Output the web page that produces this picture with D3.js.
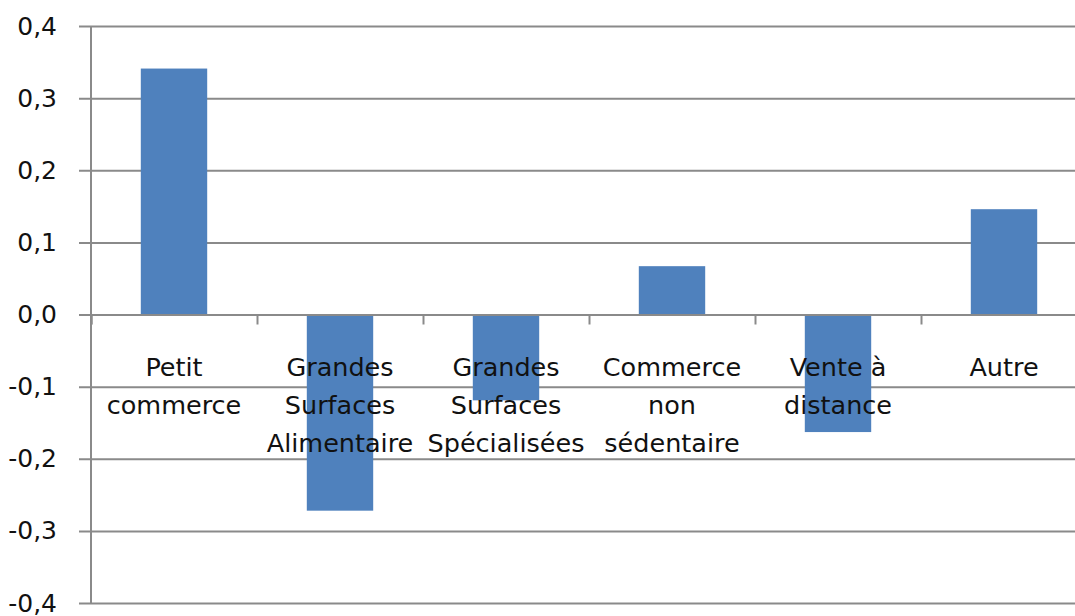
<!DOCTYPE html>
<html>
<head>
<meta charset="utf-8">
<script src="https://cdn.jsdelivr.net/npm/d3@7"></script>
<style>
  body { margin: 0; background: #fff; }
  svg { display: block; }
  text { font-family: 'DejaVu Sans', sans-serif; fill: #111; }
</style>
</head>
<body>
<div id="chart"></div>
<script>
// data
let categories = [
  ['Petit', 'commerce'],
  ['Grandes', 'Surfaces', 'Alimentaire'],
  ['Grandes', 'Surfaces', 'Spécialisées'],
  ['Commerce', 'non', 'sédentaire'],
  ['Vente à', 'distance'],
  ['Autre']
]
let values = [0.341, -0.272, -0.119, 0.067, -0.163, 0.146]
let yTicks = [-0.4, -0.3, -0.2, -0.1, 0, 0.1, 0.2, 0.3, 0.4]

let margin = { top: 26, left: 91, right: 0, bottom: 13 }
let width = 996
let height = 616 - margin.top - margin.bottom

let svg = d3
  .select('#chart')
  .append('svg')
  .attr('width', 1075)
  .attr('height', 616)
  .append('g')
  .attr('transform', 'translate(' + margin.left + ',' + margin.top + ')')

let keys = categories.map((d, i) => i)

let xPositionScale = d3
  .scaleBand()
  .domain(keys)
  .range([0, width])
  .paddingInner(0.6)
  .paddingOuter(0.3)

let yPositionScale = d3.scaleLinear().domain([-0.4, 0.4]).range([height, 0])

let fmt = d => d3.format('.1f')(d).replace('.', ',').replace('−', '-')

// gridlines + y ticks
let yAxis = d3
  .axisLeft(yPositionScale)
  .tickValues(yTicks)
  .tickSize(-width - 12)
  .tickFormat(fmt)
  .tickPadding(22)
svg
  .append('g')
  .attr('class', 'axis y-axis')
  .attr('transform', 'translate(-12,0)')
  .call(yAxis)
  .call(g => g.select('.domain').remove())
  .call(g => g.selectAll('line').attr('stroke', '#8a8a8a').attr('stroke-width', 2))
  .call(g => g.selectAll('text').attr('font-size', 25).attr('fill', '#111'))

// bars
svg
  .selectAll('.bar')
  .data(values)
  .enter()
  .append('rect')
  .attr('class', 'bar')
  .attr('x', (d, i) => xPositionScale(i))
  .attr('width', xPositionScale.bandwidth())
  .attr('y', d => yPositionScale(Math.max(0, d)))
  .attr('height', d => Math.abs(yPositionScale(d) - yPositionScale(0)))
  .attr('fill', '#4f81bd')

// vertical axis line
svg
  .append('line')
  .attr('x1', 0)
  .attr('x2', 0)
  .attr('y1', 0)
  .attr('y2', height)
  .attr('stroke', '#8a8a8a')
  .attr('stroke-width', 2)

// category axis at zero
let step = width / categories.length
let xAxis = d3
  .axisBottom(d3.scaleLinear().domain([0, categories.length]).range([0, width]))
  .tickValues(d3.range(categories.length + 1))
  .tickSize(10)
  .tickFormat('')
svg
  .append('g')
  .attr('class', 'axis x-axis')
  .attr('transform', 'translate(0,' + yPositionScale(0) + ')')
  .call(xAxis)
  .call(g => g.selectAll('line, .domain').attr('stroke', '#8a8a8a').attr('stroke-width', 2))

// category labels
let labels = svg
  .selectAll('.cat-label')
  .data(categories)
  .enter()
  .append('text')
  .attr('class', 'cat-label')
  .attr('text-anchor', 'middle')
  .attr('font-size', 25.5)
  .attr('x', (d, i) => i * step + step / 2)
  .attr('y', yPositionScale(0) + 61)

labels
  .selectAll('tspan')
  .data(d => d)
  .enter()
  .append('tspan')
  .attr('x', function() {
    return d3.select(this.parentNode).attr('x')
  })
  .attr('dy', (d, i) => (i === 0 ? 0 : 38))
  .text(d => d)
</script>
</body>
</html>
